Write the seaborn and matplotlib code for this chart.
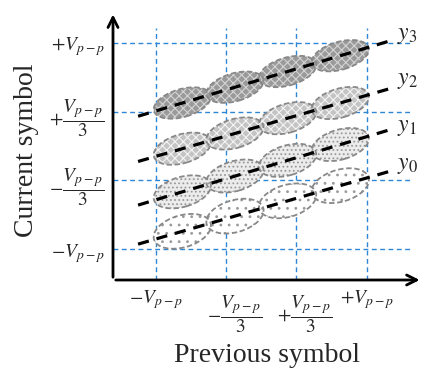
import numpy as np
import pandas as pd
import seaborn as sns
import matplotlib
matplotlib.use('Agg')
import matplotlib.pyplot as plt
from matplotlib.patches import Ellipse
from matplotlib.transforms import ScaledTranslation

# symbol levels (normalised to V_p-p)
levels = [-1, -1/3, 1/3, 1]
x_tick_labels = [r'$-V_{p-p}$', r'$-\dfrac{V_{p-p}}{3}$', r'$+\dfrac{V_{p-p}}{3}$', r'$+V_{p-p}$']
y_tick_labels = [r'$-V_{p-p}$', r'$-\dfrac{V_{p-p}}{3}$', r'$+\dfrac{V_{p-p}}{3}$', r'$+V_{p-p}$']

# dashed trend lines y0..y3 (ends)
line_names = ['y_0', 'y_1', 'y_2', 'y_3']
line_x = [-1.17, 1.25]
line_y = [[-0.95, -0.236], [-0.572, 0.166], [-0.15, 0.564], [0.288, 1.026]]
label_y = [-0.19, 0.18, 0.63, 1.065]

# ellipse clusters along every line
ell_x = [-0.75, -0.25, 0.25, 0.75]
ell_y = [[-0.826, -0.679, -0.531, -0.384],
         [-0.444, -0.291, -0.139, 0.014],
         [-0.026, 0.121, 0.269, 0.416],
         [0.416, 0.569, 0.721, 0.874]]
ell_h = [0.31, 0.29, 0.28, 0.27]
ell_face = ['#ffffff', '#ececec', '#c4c4c4', '#9a9a9a']
ell_hatch_col = ['#9a9a9a', '#9a9a9a', '#f4f4f4', '#d4d4d4']
ell_hatch = ['..', '....', 'xxxx', 'xxxx']

sns.set_theme(style='white')
plt.rcParams['mathtext.fontset'] = 'stix'
plt.rcParams['font.family'] = ['Liberation Serif', 'DejaVu Serif']
plt.rcParams['hatch.linewidth'] = 0.8

fig = plt.figure(figsize=(4.27, 3.71), dpi=100)
ax = fig.add_axes([113/427, 91/371, 299/427, 252/371])
ax.set_xlim(-1.408, 1.431)
ax.set_ylim(-1.297, 1.142)

ax.set_xticks(levels)
ax.set_xticklabels(x_tick_labels, fontsize=14)
ax.set_yticks(levels)
ax.set_yticklabels(y_tick_labels, fontsize=14)
ax.tick_params(length=0, pad=6)
ax.grid(True, color='#2f86d6', linestyle=(0, (3.5, 2.5)), linewidth=1.0)
for s in ax.spines.values():
    s.set_visible(False)

# ellipses
for k in range(4):
    for xc, yc in zip(ell_x, ell_y[k]):
        ax.add_patch(Ellipse((xc, yc), 0.56, ell_h[k], angle=16.5, facecolor=ell_face[k],
                             edgecolor=ell_hatch_col[k], hatch=ell_hatch[k], linewidth=0, zorder=3))
        ax.add_patch(Ellipse((xc, yc), 0.56, ell_h[k], angle=16.5, facecolor='none',
                             edgecolor='#888888', linestyle=(0, (3, 1.5)), linewidth=1.3, zorder=4))

# dashed lines
for k in range(4):
    df = pd.DataFrame({'x': line_x, 'y': line_y[k]})
    sns.lineplot(data=df, x='x', y='y', ax=ax, color='black', linewidth=2.3,
                 linestyle=(0, (3.5, 2.5)), zorder=5)
    ax.text(1.29, label_y[k], '$' + line_names[k] + '$', fontsize=17, va='center', ha='left')

ax.set_xlabel('Previous symbol', fontsize=20, va='center')
ax.set_ylabel('Current symbol', fontsize=20, va='center')
ax.xaxis.set_label_coords(0.515, -0.298)
ax.yaxis.set_label_coords(-0.29, 0.516)

# fraction labels on x: fraction centred on the grid line, sign hanging left
for lab in ax.get_xticklabels()[1:3]:
    lab.set_transform(lab.get_transform() + ScaledTranslation(0.08, -0.05, fig.dpi_scale_trans))

# axis arrows
ax.annotate('', xy=(1.035, 0), xytext=(0, 0), xycoords='axes fraction',
            arrowprops=dict(arrowstyle='->', lw=2.0, color='black', mutation_scale=18))
ax.annotate('', xy=(0, 1.065), xytext=(0, 0), xycoords='axes fraction',
            arrowprops=dict(arrowstyle='->', lw=2.0, color='black', mutation_scale=18))

fig.savefig('out.png', dpi=100)
